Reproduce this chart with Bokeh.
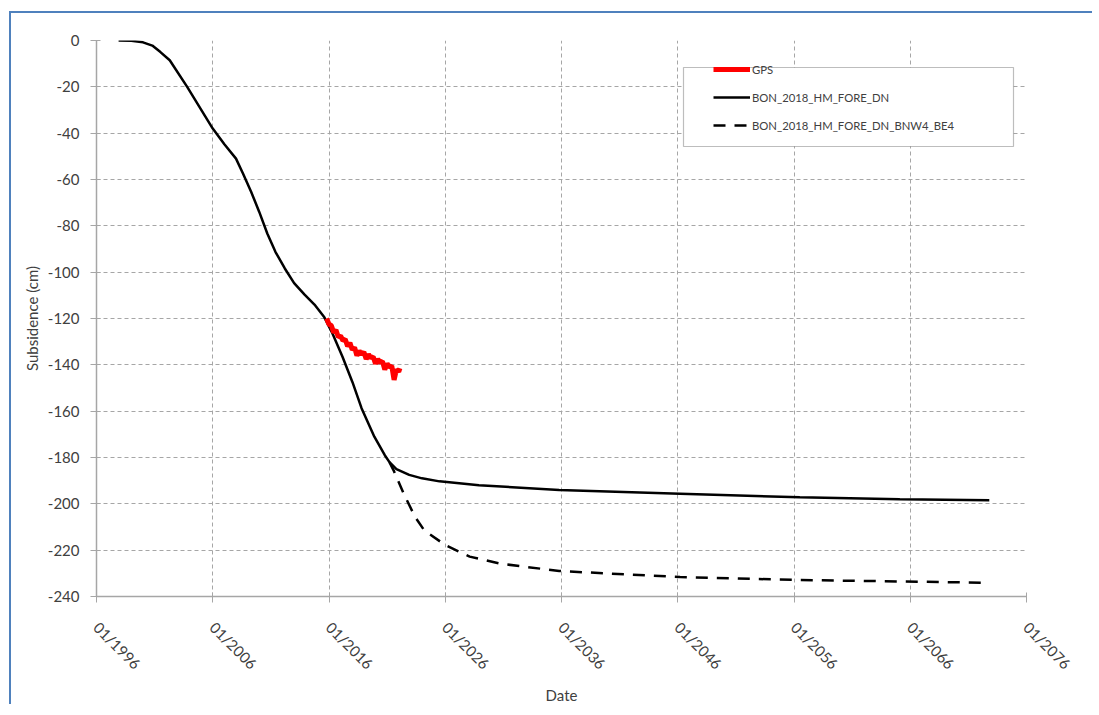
import math
from bokeh.plotting import figure
from bokeh.models import FixedTicker, Legend, LegendItem, BoxAnnotation
from bokeh.embed import file_html
from bokeh.resources import INLINE

# ---- data ----
fore_year = [1997.9, 1999.0, 2000.0, 2000.8, 2001.5, 2002.3, 2003.8, 2006.0, 2007.0, 2008.0,
             2008.6, 2009.3, 2010.0, 2010.7, 2011.4, 2012.2, 2013.0, 2013.9, 2014.75, 2015.6,
             2016.3, 2017.16, 2018.02, 2018.8, 2019.9, 2020.8, 2021.2, 2021.8, 2022.9, 2024.0,
             2025.5, 2028.9, 2035.8, 2046.2, 2056.5, 2065.1, 2072.8]
fore_val = [0.0, -0.1, -0.8, -2.2, -5.0, -8.5, -20.0, -38.0, -44.8, -51.0,
            -57.4, -65.3, -74.0, -83.4, -91.3, -98.4, -104.7, -109.7, -114.0, -119.5,
            -126.5, -136.5, -147.5, -158.7, -171.0, -179.0, -182.0, -185.0, -187.5, -189.0,
            -190.3, -192.0, -194.0, -195.6, -197.2, -198.0, -198.5]

bnw_year = [2021.2, 2021.6, 2022.5, 2023.4, 2024.2, 2026.0, 2028.1, 2030.7, 2035.8, 2046.2, 2056.5, 2065.1, 2072.8]
bnw_val = [-182.0, -186.0, -196.4, -205.6, -211.5, -217.8, -222.8, -225.8, -229.0, -231.6, -232.9, -233.5, -234.1]

gps_year = [2015.8, 2016.0, 2016.2, 2016.4, 2016.6, 2016.8, 2017.0, 2017.2, 2017.4, 2017.6,
            2017.8, 2018.0, 2018.2, 2018.4, 2018.6, 2018.8, 2019.0, 2019.2, 2019.4, 2019.6,
            2019.8, 2020.0, 2020.2, 2020.4, 2020.6, 2020.8, 2021.0, 2021.2, 2021.4, 2021.6,
            2021.8, 2022.0, 2022.1]
gps_val = [-120.0, -122.5, -123.0, -126.0, -125.0, -128.0, -127.5, -129.5, -129.0, -132.0,
           -130.5, -133.5, -132.5, -136.0, -134.0, -135.5, -134.5, -137.5, -135.5, -137.0,
           -136.5, -139.5, -137.5, -139.0, -138.5, -142.0, -139.5, -141.0, -140.5, -146.5,
           -142.0, -143.0, -141.5]

x_ticks = [1996, 2006, 2016, 2026, 2036, 2046, 2056, 2066, 2076]
x_tick_labels = ["01/1996", "01/2006", "01/2016", "01/2026", "01/2036", "01/2046", "01/2056", "01/2066", "01/2076"]
y_ticks = [0, -20, -40, -60, -80, -100, -120, -140, -160, -180, -200, -220, -240]
y_tick_labels = ["0", "-20", "-40", "-60", "-80", "-100", "-120", "-140", "-160", "-180", "-200", "-220", "-240"]

FONT = "Lato"
TXT = "#404040"
GRID = "#a6a6a6"

p = figure(width=1083, height=693, x_range=(1996, 2076), y_range=(-240, 0),
           output_backend="svg", toolbar_location=None,
           min_border_left=85, min_border_right=68, min_border_top=27, min_border_bottom=93,
           styles={"border-top": "2px solid #4f81bd", "border-left": "2px solid #4f81bd",
                   "margin-top": "11px", "margin-left": "9px"})
p.outline_line_color = None
p.background_fill_color = "white"
p.border_fill_color = "white"

# axes
p.xaxis.ticker = FixedTicker(ticks=x_ticks)
p.xaxis.major_label_overrides = {t: l for t, l in zip(x_ticks, x_tick_labels)}
p.xaxis.major_label_orientation = -math.pi / 4
p.yaxis.ticker = FixedTicker(ticks=y_ticks)
p.yaxis.major_label_overrides = {t: l for t, l in zip(y_ticks, y_tick_labels)}
p.xaxis.minor_tick_line_color = None
p.yaxis.minor_tick_line_color = None
for ax in (p.xaxis, p.yaxis):
    ax.axis_line_color = GRID
    ax.axis_line_width = 1.5
    ax.major_tick_line_color = GRID
    ax.major_tick_in = 4
    ax.major_tick_out = 6
    ax.major_label_text_font = FONT
    ax.major_label_text_font_size = "15px"
    ax.major_label_text_color = TXT
    ax.axis_label_text_font = FONT
    ax.axis_label_text_font_size = "15px"
    ax.axis_label_text_font_style = "normal"
    ax.axis_label_text_color = TXT
p.yaxis.major_label_standoff = 11
p.xaxis.major_label_standoff = 22
p.xaxis.axis_label = "Date"
p.yaxis.axis_label = "Subsidence (cm)"
p.yaxis.axis_label_standoff = 4
p.xaxis.axis_label_standoff = 4

# grid
for g in (p.xgrid, p.ygrid):
    g.grid_line_color = GRID
    g.grid_line_dash = "4 3"
    g.grid_line_width = 1
p.xgrid.ticker = FixedTicker(ticks=x_ticks)
p.ygrid.ticker = FixedTicker(ticks=y_ticks)

# series
r_bnw = p.line(bnw_year, bnw_val, line_color="black", line_width=2.5, line_dash="12 9")
r_fore = p.line(fore_year, fore_val, line_color="black", line_width=2.5)
r_gps = p.line(gps_year, gps_val, line_color="#ff0000", line_width=5)

# legend frame
box = BoxAnnotation(left=670, right=1000, top=52, bottom=131,
                    left_units="canvas", right_units="canvas", top_units="canvas", bottom_units="canvas",
                    fill_color="white", fill_alpha=1.0, line_color="#262626", line_width=1.2, level="overlay")
p.add_layout(box)

legend = Legend(items=[
    LegendItem(label="GPS", renderers=[r_gps]),
    LegendItem(label="BON_2018_HM_FORE_DN", renderers=[r_fore]),
    LegendItem(label="BON_2018_HM_FORE_DN_BNW4_BE4", renderers=[r_bnw]),
], location=(617, 463), padding=0, margin=0, spacing=12, glyph_height=16, glyph_width=37,
    label_standoff=2, label_text_font=FONT, label_text_font_size="11.3px", label_text_color=TXT,
    border_line_alpha=0, background_fill_alpha=0)
p.add_layout(legend)

open("out.html", "w").write(file_html(p, INLINE))
